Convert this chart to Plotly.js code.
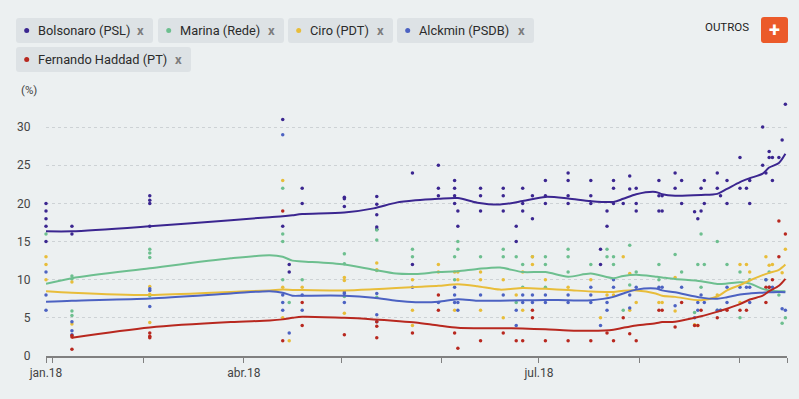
<!DOCTYPE html>
<html><head><meta charset="utf-8">
<script src="https://cdn.plot.ly/plotly-3.0.1.min.js"></script>
<style>html,body{margin:0;padding:0;background:#ecf0f1;}#chart{width:799px;height:399px;}</style>
</head><body><div id="chart"></div><script>
// ---------- DATA ----------
const candidates = ['Bolsonaro (PSL)', 'Marina (Rede)', 'Ciro (PDT)', 'Alckmin (PSDB)', 'Fernando Haddad (PT)'];

const bolsonaroPolls = [['2018-01-30',[20,19,18,17,15]],['2018-02-07',[17,16]],['2018-03-03',[21,20.4,20,17]],['2018-04-13',[31,17]],['2018-04-15',[12,11]],['2018-04-19',[22,20]],['2018-05-02',[20.8,20.6,19.6]],['2018-05-12',[20.9,19.9,18.5,16.9,16.6]],['2018-05-23',[24,12]],['2018-05-31',[25,22,21]],['2018-06-05',[23,22,21,20]],['2018-06-06',[19,17]],['2018-06-13',[22,21,19]],['2018-06-20',[22,21,19]],['2018-06-24',[17,15]],['2018-06-26',[22,20,19]],['2018-06-29',[21,18]],['2018-07-03',[23,21,20]],['2018-07-10',[24,23,21,20]],['2018-07-17',[23,21,20]],['2018-07-20',[14,12]],['2018-07-22',[19,17]],['2018-07-24',[23,22,20]],['2018-07-27',[20]],['2018-07-29',[23.6,21.9]],['2018-07-31',[22,20,19]],['2018-08-07',[23,21,19]],['2018-08-08',[21,19]],['2018-08-12',[24,22]],['2018-08-14',[23,20]],['2018-08-18',[18.9]],['2018-08-19',[18]],['2018-08-20',[22,19]],['2018-08-21',[23,20]],['2018-08-25',[24,22]],['2018-08-26',[21]],['2018-08-28',[23,20]],['2018-09-01',[26,22]],['2018-09-03',[22]],['2018-09-04',[23,20]],['2018-09-08',[30,25]],['2018-09-09',[24]],['2018-09-10',[26.8,26]],['2018-09-11',[26,23]],['2018-09-13',[26]],['2018-09-14',[28.3]],['2018-09-15',[33]]];

const marinaPolls = [['2018-01-30',[16]],['2018-02-07',[10.5,10.1,5.9,5.3]],['2018-03-03',[14,13.5,12.9,7.9]],['2018-04-13',[22,16,15,10]],['2018-04-15',[7]],['2018-04-19',[10]],['2018-05-02',[13.4,12.1,7.8]],['2018-05-12',[16.5,15.2,11.2,7.7]],['2018-05-23',[14,13]],['2018-06-05',[13,10]],['2018-06-06',[15,14]],['2018-06-13',[13]],['2018-06-20',[14,13]],['2018-06-24',[13,7]],['2018-06-26',[12,9]],['2018-06-29',[13]],['2018-07-03',[13,12,9]],['2018-07-10',[14,13,11]],['2018-07-17',[12]],['2018-07-22',[14,13]],['2018-07-24',[13,12]],['2018-07-27',[6]],['2018-07-29',[14.5,9.3]],['2018-07-31',[11]],['2018-08-07',[12,10]],['2018-08-12',[13.3]],['2018-08-14',[11]],['2018-08-18',[5.7]],['2018-08-19',[12]],['2018-08-20',[16,9]],['2018-08-21',[12]],['2018-08-25',[15,6]],['2018-08-26',[6]],['2018-08-28',[12]],['2018-09-01',[11,5]],['2018-09-04',[10]],['2018-09-09',[10]],['2018-09-10',[11]],['2018-09-13',[8]],['2018-09-14',[4.3]],['2018-09-15',[5]]];

const ciroPolls = [['2018-01-30',[13,12,10]],['2018-02-07',[9.7,4.2]],['2018-03-03',[9.1,8.1,4.4]],['2018-04-13',[23,9,5]],['2018-04-15',[2]],['2018-04-19',[9]],['2018-05-02',[10.3,9.9,5.6]],['2018-05-12',[12.2,11.3]],['2018-05-23',[10,6,4]],['2018-05-31',[12,11]],['2018-06-05',[11,6]],['2018-06-06',[11,10]],['2018-06-13',[11,10,6]],['2018-06-20',[10,5]],['2018-06-24',[8]],['2018-06-26',[11,6]],['2018-06-29',[13,12]],['2018-07-03',[10]],['2018-07-10',[9]],['2018-07-17',[10]],['2018-07-20',[5]],['2018-07-22',[8]],['2018-07-24',[8]],['2018-07-27',[13]],['2018-07-29',[10.8,6]],['2018-07-31',[7]],['2018-08-07',[7]],['2018-08-08',[7]],['2018-08-12',[10.3,5.9]],['2018-08-18',[4.1]],['2018-08-19',[4]],['2018-08-25',[8]],['2018-09-01',[12,7]],['2018-09-03',[12]],['2018-09-04',[11]],['2018-09-09',[13]],['2018-09-10',[11.9]],['2018-09-11',[12]],['2018-09-14',[10.9]],['2018-09-15',[14]]];

const alckminPolls = [['2018-01-30',[11,8,6]],['2018-02-07',[4.5,3.3,2.8]],['2018-03-03',[8.8,8.6,6.5]],['2018-04-13',[29,8,7,6]],['2018-04-15',[3]],['2018-04-19',[8,6]],['2018-05-02',[8.4,8.2,7]],['2018-05-12',[8.2,5.4,4.5]],['2018-05-23',[9]],['2018-05-31',[7]],['2018-06-05',[9,8,7]],['2018-06-06',[7,6]],['2018-06-13',[8]],['2018-06-20',[8]],['2018-06-24',[6,4]],['2018-06-26',[8,7]],['2018-06-29',[8,7]],['2018-07-03',[8,7]],['2018-07-10',[8,7]],['2018-07-17',[9,8,7]],['2018-07-20',[4]],['2018-07-22',[7,6]],['2018-07-24',[10,9]],['2018-07-29',[8,6.3]],['2018-07-31',[9]],['2018-08-07',[9]],['2018-08-08',[9]],['2018-08-12',[6.6]],['2018-08-14',[9]],['2018-08-18',[5]],['2018-08-19',[7,6]],['2018-08-20',[8]],['2018-08-21',[7]],['2018-08-25',[6]],['2018-08-26',[6]],['2018-08-28',[9,7]],['2018-09-01',[9]],['2018-09-03',[9]],['2018-09-04',[9,7]],['2018-09-09',[10]],['2018-09-10',[9]],['2018-09-11',[9]],['2018-09-14',[6.2]],['2018-09-15',[6]]];

const haddadPolls = [['2018-02-07',[2.7,2.5,0.9]],['2018-03-03',[3,2.6,2.4]],['2018-04-13',[19,2]],['2018-04-19',[7,4]],['2018-05-02',[2.8]],['2018-05-12',[4.5,3.9,2.4]],['2018-05-23',[3]],['2018-05-31',[8,6]],['2018-06-05',[3]],['2018-06-06',[1]],['2018-06-13',[2]],['2018-06-20',[3]],['2018-06-24',[2]],['2018-06-26',[2]],['2018-06-29',[6,5]],['2018-07-03',[2]],['2018-07-10',[2]],['2018-07-17',[2]],['2018-07-22',[3]],['2018-07-24',[2]],['2018-07-27',[5]],['2018-07-29',[2.9]],['2018-07-31',[2]],['2018-08-07',[6]],['2018-08-08',[6]],['2018-08-12',[3.8]],['2018-08-14',[7]],['2018-08-18',[4]],['2018-08-19',[4]],['2018-08-20',[6]],['2018-08-25',[5]],['2018-08-28',[6]],['2018-09-01',[6]],['2018-09-03',[6]],['2018-09-09',[9,7]],['2018-09-10',[9]],['2018-09-11',[10]],['2018-09-13',[17.7,13]],['2018-09-15',[16]]];

const trendDates = ['2018-01-30','2018-02-07','2018-03-03','2018-03-28','2018-04-09','2018-04-13','2018-04-16','2018-04-19','2018-05-02','2018-05-11','2018-05-18','2018-05-24','2018-05-31','2018-06-06','2018-06-12','2018-06-19','2018-06-26','2018-07-03','2018-07-10','2018-07-17','2018-07-24','2018-07-27','2018-07-31','2018-08-06','2018-08-08','2018-08-12','2018-08-20','2018-08-25','2018-08-28','2018-09-01','2018-09-04','2018-09-08','2018-09-10','2018-09-13','2018-09-15'];
const bolsonaroTrend = [16.35,16.35,17.0,17.8,18.2,18.3,18.45,18.6,18.8,19.35,20.1,20.4,20.6,20.7,20.1,19.85,20.3,20.85,20.65,20.3,20.2,20.6,21.2,21.5,21.2,21.0,21.1,21.25,21.9,22.8,23.3,23.9,24.7,25.3,26.5];
const marinaTrend = [9.45,10.2,11.5,12.8,13.2,13.0,12.5,12.4,12.0,11.3,10.8,10.75,11.0,11.1,11.4,11.6,11.0,11.0,10.4,10.8,10.2,10.5,10.65,10.4,10.3,10.1,9.8,9.45,9.5,9.65,9.5,8.8,8.6,8.5,8.5];
const ciroTrend = [8.5,8.3,8.0,8.4,8.6,8.7,8.65,8.65,8.6,8.75,8.9,9.05,9.2,9.4,9.15,8.7,8.9,8.8,8.65,8.45,8.4,8.55,8.6,8.2,7.9,7.75,7.3,7.8,8.6,9.3,9.9,10.6,10.9,11.3,12.0];
const alckminTrend = [7.1,7.25,7.55,8.2,8.5,8.3,7.9,7.9,7.9,7.65,7.25,7.05,7.1,7.45,7.25,7.25,7.3,7.35,7.3,7.3,7.75,8.2,8.7,8.85,8.6,8.35,7.65,7.5,7.7,8.05,8.2,8.3,8.35,8.4,8.35];
const haddadTrend = [null,2.4,3.75,4.45,4.65,4.8,5.0,5.15,5.0,4.8,4.6,4.4,4.0,3.7,3.65,3.65,3.6,3.5,3.35,3.3,3.45,3.7,4.0,4.3,4.45,4.5,5.2,5.8,6.2,6.8,7.4,7.9,8.5,9.2,10.1];

const xTickVals = ['2018-01-30','2018-02-01','2018-03-01','2018-04-01','2018-05-01','2018-06-01','2018-07-01','2018-08-01','2018-09-01','2018-09-15 12:00'];
const xTickText = ['jan.18','','','abr.18','','','jul.18','','',''];
const yTickVals = [0,5,10,15,20,25,30];
const othersLabel = 'OUTROS';
const unitLabel = '(%)';

// ---------- STYLE ----------
const colors = ['#3b2690', '#6dbf8f', '#e8bd3a', '#4c62c2', '#b8281f'];
const FONT = 'Roboto, "Noto Sans", sans-serif';
const BG = '#ecf0f1';
const M = {l: 46, r: 12, t: 100, b: 43};
const W = 799 - M.l - M.r, H = 399 - M.t - M.b;
const px = x => (x - M.l) / W;
const py = y => (M.t + H - y) / H;

function flatten(polls) {
  const xs = [], ys = [];
  polls.forEach(([d, vals]) => vals.forEach(v => { xs.push(d); ys.push(v); }));
  return {xs, ys};
}

const pollSets = [bolsonaroPolls, marinaPolls, ciroPolls, alckminPolls, haddadPolls];
const trendSets = [bolsonaroTrend, marinaTrend, ciroTrend, alckminTrend, haddadTrend];

const traces = [];
pollSets.forEach((p, i) => {
  const f = flatten(p);
  traces.push({type: 'scatter', mode: 'markers', x: f.xs, y: f.ys, name: candidates[i], cliponaxis: false,
    marker: {color: colors[i], size: 3.5}, showlegend: false, hoverinfo: 'x+y'});
});
trendSets.forEach((t, i) => {
  traces.push({type: 'scatter', mode: 'lines', x: trendDates, y: t, name: candidates[i], cliponaxis: false,
    line: {color: colors[i], width: 2, shape: 'spline', smoothing: 0.8}, showlegend: false, connectgaps: false});
});

// ---------- chips (legend) ----------
function roundRect(x0, y0, x1, y1, r) {
  const P = (x, y) => px(x) + ',' + py(y);
  return 'M' + P(x0 + r, y0) + ' L' + P(x1 - r, y0) + ' Q' + P(x1, y0) + ' ' + P(x1, y0 + r) +
    ' L' + P(x1, y1 - r) + ' Q' + P(x1, y1) + ' ' + P(x1 - r, y1) +
    ' L' + P(x0 + r, y1) + ' Q' + P(x0, y1) + ' ' + P(x0, y1 - r) +
    ' L' + P(x0, y0 + r) + ' Q' + P(x0, y0) + ' ' + P(x0 + r, y0) + ' Z';
}
const chipBoxes = [[16, 18, 153, 43], [158, 18, 284, 43], [288, 18, 393, 43], [397, 18, 534, 43], [16, 47, 191, 72]];
const shapes = [], annotations = [];
chipBoxes.forEach((b, i) => {
  const [x0, y0, x1, y1] = b, cy = (y0 + y1) / 2;
  shapes.push({type: 'path', xref: 'paper', yref: 'paper', path: roundRect(x0, y0, x1, y1, 3),
    fillcolor: '#dde2e5', line: {width: 0}, layer: 'below'});
  shapes.push({type: 'circle', xref: 'paper', yref: 'paper', x0: px(x0 + 8.2), x1: px(x0 + 13.2),
    y0: py(cy + 2.5), y1: py(cy - 2.5), fillcolor: colors[i], line: {width: 0}});
  annotations.push({xref: 'paper', yref: 'paper', x: px(x0 + 20), y: py(cy), xanchor: 'left', yanchor: 'middle',
    text: candidates[i], showarrow: false, font: {family: FONT, size: 12.8, color: '#2b2b2b'}});
  annotations.push({xref: 'paper', yref: 'paper', x: px(x1 - 12.5), y: py(cy), xanchor: 'center', yanchor: 'middle',
    text: '<b>x</b>', showarrow: false, font: {family: FONT, size: 13, color: '#7d7d7d'}});
});
// OUTROS button
shapes.push({type: 'path', xref: 'paper', yref: 'paper', path: roundRect(761, 17, 788, 43, 3),
  fillcolor: '#eb5a2a', line: {width: 0}});
annotations.push({xref: 'paper', yref: 'paper', x: px(751), y: py(27), xanchor: 'right', yanchor: 'middle',
  text: othersLabel, showarrow: false, font: {family: FONT, size: 11.5, color: '#1e1e1e'}});
annotations.push({xref: 'paper', yref: 'paper', x: px(774.5), y: py(30), xanchor: 'center', yanchor: 'middle',
  text: '<b>+</b>', showarrow: false, font: {family: FONT, size: 20, color: '#ffffff'}});
annotations.push({xref: 'paper', yref: 'paper', x: px(19), y: py(90), xanchor: 'left', yanchor: 'middle',
  text: unitLabel, showarrow: false, font: {family: FONT, size: 11.5, color: '#444'}});

const layout = {
  width: 799, height: 399, margin: M,
  paper_bgcolor: BG, plot_bgcolor: BG,
  font: {family: FONT, color: '#444'},
  showlegend: false, hovermode: 'closest',
  xaxis: {type: 'date', range: ['2018-01-30', '2018-09-15 12:00'], tickvals: xTickVals, ticktext: xTickText,
    ticks: 'outside', ticklen: 5, tickwidth: 1.3, tickcolor: '#808080', showline: true, linecolor: '#808080',
    linewidth: 1.5, showgrid: false, zeroline: false, tickfont: {family: FONT, size: 12, color: '#444'}, fixedrange: true},
  yaxis: {range: [0, H / 7.63], tickvals: yTickVals, ticks: 'outside', ticklen: 12, tickcolor: 'rgba(0,0,0,0)',
    showgrid: true, gridcolor: '#cdd2d5', griddash: 'dot', gridwidth: 1, zeroline: false, showline: false,
    tickfont: {family: FONT, size: 12, color: '#444'}, fixedrange: true},
  shapes, annotations
};
Plotly.newPlot('chart', traces, layout, {displayModeBar: false, staticPlot: false});
</script></body></html>
